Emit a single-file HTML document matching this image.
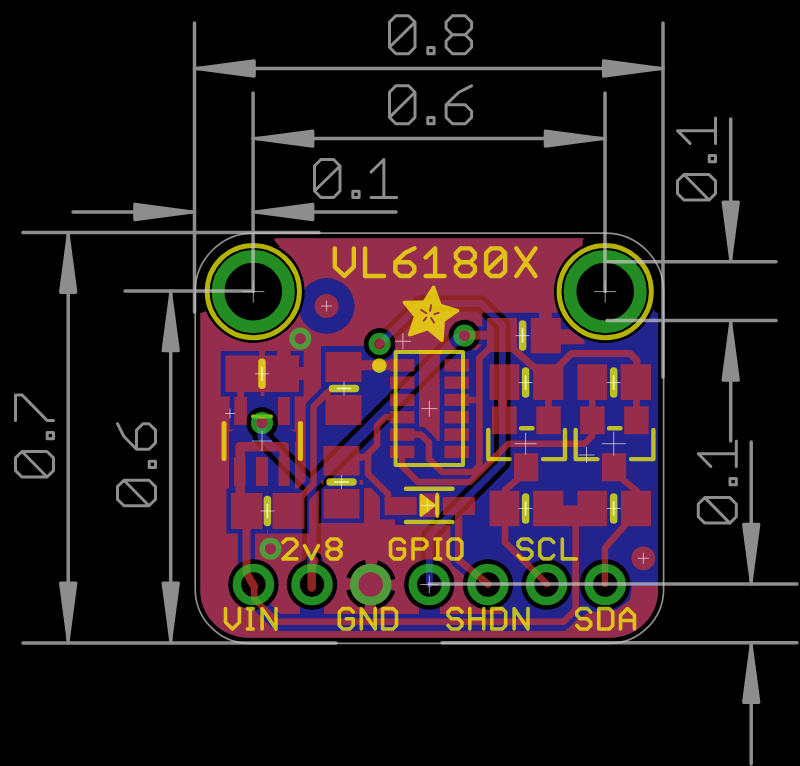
<!DOCTYPE html>
<html><head><meta charset="utf-8"><title>VL6180X board dimensions</title>
<style>html,body{margin:0;padding:0;background:#000;font-family:"Liberation Sans",sans-serif;}svg{display:block}</style></head><body>
<svg width="800" height="766" viewBox="0 0 800 766">
<rect width="800" height="766" fill="#000"/>
<g opacity="0.706">
<path d="M247.8 238.2 H610.6 A47.5 47.5 0 0 1 658.1 285.7 V590.2 A47.5 47.5 0 0 1 610.6 637.7 H247.8 A47.5 47.5 0 0 1 200.3 590.2 V285.7 A47.5 47.5 0 0 1 247.8 238.2 Z" fill="rgb(50,50,200)"/>
<g fill="#000"><path d="M202.0 291.6 a51.3 51.3 0 1 1 102.6 0 a51.3 51.3 0 1 1 -102.6 0 Z"/><path d="M553.9 291.6 a51.3 51.3 0 1 1 102.6 0 a51.3 51.3 0 1 1 -102.6 0 Z"/><path d="M190.0 230.0 H253.3 V291.6 H190.0 Z"/><path d="M605.2 230.0 H670.0 V291.6 H605.2 Z"/><path d="M253.0 236.0 L274.5 236.0 L274.5 240.5 L280.0 247.0 L253.0 247.0 Z"/><path d="M197.0 291.0 L197.0 311.0 L201.5 313.0 L206.0 311.0 L206.0 291.0 Z"/><path d="M652.0 290.0 L661.0 290.0 L661.0 311.0 L657.5 313.0 L654.0 311.0 Z"/><path d="M585.0 236.0 L605.0 236.0 L605.0 247.0 L582.5 247.0 L582.5 241.0 Z"/><path d="M228.1 584.5 a25.3 25.3 0 1 1 50.6 0 a25.3 25.3 0 1 1 -50.6 0 Z"/><path d="M286.7 584.5 a25.3 25.3 0 1 1 50.6 0 a25.3 25.3 0 1 1 -50.6 0 Z"/><path d="M404.0 584.5 a25.3 25.3 0 1 1 50.6 0 a25.3 25.3 0 1 1 -50.6 0 Z"/><path d="M462.6 584.5 a25.3 25.3 0 1 1 50.6 0 a25.3 25.3 0 1 1 -50.6 0 Z"/><path d="M521.3 584.5 a25.3 25.3 0 1 1 50.6 0 a25.3 25.3 0 1 1 -50.6 0 Z"/><path d="M579.9 584.5 a25.3 25.3 0 1 1 50.6 0 a25.3 25.3 0 1 1 -50.6 0 Z"/><path d="M363.8 343.8 a15.8 15.8 0 1 1 31.6 0 a15.8 15.8 0 1 1 -31.6 0 Z"/><path d="M448.6 335.6 a15.8 15.8 0 1 1 31.6 0 a15.8 15.8 0 1 1 -31.6 0 Z"/><path d="M246.2 423.0 a15.8 15.8 0 1 1 31.6 0 a15.8 15.8 0 1 1 -31.6 0 Z"/></g>
<path d="M262.0 423.3 L262.0 437.0 L311.7 486.7 L311.7 566.0" fill="none" stroke="#000" stroke-width="18.7" stroke-linecap="round" stroke-linejoin="round"/>
<path d="M311.7 484.8 L457.0 339.5 L464.6 335.3" fill="none" stroke="#000" stroke-width="19.6" stroke-linecap="round" stroke-linejoin="round"/>
<path d="M379.5 344.2 L420.2 303.5 L481.0 303.5 L502.4 324.9 L502.4 462.5 L429.3 535.7 L429.3 584.1" fill="none" stroke="#000" stroke-width="16.2" stroke-linecap="round" stroke-linejoin="round"/>
<path d="M262.0 423.3 L262.0 437.0 L311.7 486.7 L311.7 566.0" fill="none" stroke="rgb(50,50,200)" stroke-width="9.5" stroke-linecap="round" stroke-linejoin="round"/>
<path d="M311.7 484.8 L457.0 339.5 L464.6 335.3" fill="none" stroke="rgb(50,50,200)" stroke-width="10.4" stroke-linecap="round" stroke-linejoin="round"/>
<path d="M379.5 344.2 L420.2 303.5 L481.0 303.5 L502.4 324.9 L502.4 462.5 L429.3 535.7 L429.3 584.1" fill="none" stroke="rgb(50,50,200)" stroke-width="7.0" stroke-linecap="round" stroke-linejoin="round"/>
<circle cx="370.7" cy="584.5" r="23" fill="none" stroke="#000" stroke-width="4.6" stroke-dasharray="24.13 12" stroke-dashoffset="-6"/>
</g>
<defs><mask id="tp" maskUnits="userSpaceOnUse" x="0" y="0" width="800" height="766">
<path d="M247.8 238.2 H610.6 A47.5 47.5 0 0 1 658.1 285.7 V590.2 A47.5 47.5 0 0 1 610.6 637.7 H247.8 A47.5 47.5 0 0 1 200.3 590.2 V285.7 A47.5 47.5 0 0 1 247.8 238.2 Z" fill="#fff"/>
<path d="M483.0 312.8 L556.0 312.8 L604.6 300.0 L604.6 236.0 L661.0 236.0 L661.0 586.0 L632.0 586.0 L630.0 600.0 L616.0 610.0 L590.0 612.0 L575.0 620.0 L563.0 630.5 L502.5 630.5 L502.5 607.0 L488.0 607.0 L488.0 584.0 L476.0 585.0 L452.5 562.0 L452.5 525.0 L478.0 525.0 Z" fill="#000"/>
<path d="M395.0 350.0 L418.7 350.0 L418.7 426.0 L437.5 441.0 L442.2 441.0 L442.2 350.0 L483.0 350.0 L483.0 525.0 L395.0 525.0 Z" fill="#000"/>
<path d="M321.0 346.0 L395.0 346.0 L395.0 497.0 L380.0 497.0 L380.0 488.0 L363.0 488.0 L363.0 442.0 L321.0 442.0 Z" fill="#000"/>
<path d="M246.0 396.0 L278.0 396.0 L278.0 425.0 L296.0 432.0 L296.0 442.0 L229.0 442.0 L229.0 432.0 L246.0 425.0 Z" fill="#000"/>
<path d="M229.0 440.0 L295.0 440.0 L295.0 492.0 L229.0 492.0 Z" fill="#000"/>
<path d="M323.5 474.0 L359.5 474.0 L359.5 490.0 L323.5 490.0 Z" fill="#000"/>
<path d="M325.5 381.0 L361.5 381.0 L361.5 396.0 L325.5 396.0 Z" fill="#000"/>
<path d="M261.0 493.0 L274.0 493.0 L274.0 529.0 L261.0 529.0 Z" fill="#000"/>
<path d="M274.0 624.0 L566.0 624.0 L566.0 630.9 L279.0 630.9 Z" fill="#000"/>
<path d="M300.0 605.0 L324.0 605.0 L324.0 616.0 L300.0 616.0 Z" fill="#000"/>
<path d="M419.0 605.0 L440.0 605.0 L440.0 616.0 L419.0 616.0 Z" fill="#000"/>
<g fill="#000"><path d="M202.0 291.6 a51.3 51.3 0 1 1 102.6 0 a51.3 51.3 0 1 1 -102.6 0 Z"/><path d="M553.9 291.6 a51.3 51.3 0 1 1 102.6 0 a51.3 51.3 0 1 1 -102.6 0 Z"/><path d="M190.0 230.0 H253.3 V291.6 H190.0 Z"/><path d="M605.2 230.0 H670.0 V291.6 H605.2 Z"/><path d="M253.0 236.0 L274.5 236.0 L274.5 240.5 L280.0 247.0 L253.0 247.0 Z"/><path d="M197.0 291.0 L197.0 311.0 L201.5 313.0 L206.0 311.0 L206.0 291.0 Z"/><path d="M652.0 290.0 L661.0 290.0 L661.0 311.0 L657.5 313.0 L654.0 311.0 Z"/><path d="M585.0 236.0 L605.0 236.0 L605.0 247.0 L582.5 247.0 L582.5 241.0 Z"/><path d="M228.1 584.5 a25.3 25.3 0 1 1 50.6 0 a25.3 25.3 0 1 1 -50.6 0 Z"/><path d="M286.7 584.5 a25.3 25.3 0 1 1 50.6 0 a25.3 25.3 0 1 1 -50.6 0 Z"/><path d="M404.0 584.5 a25.3 25.3 0 1 1 50.6 0 a25.3 25.3 0 1 1 -50.6 0 Z"/><path d="M462.6 584.5 a25.3 25.3 0 1 1 50.6 0 a25.3 25.3 0 1 1 -50.6 0 Z"/><path d="M521.3 584.5 a25.3 25.3 0 1 1 50.6 0 a25.3 25.3 0 1 1 -50.6 0 Z"/><path d="M579.9 584.5 a25.3 25.3 0 1 1 50.6 0 a25.3 25.3 0 1 1 -50.6 0 Z"/><path d="M363.8 343.8 a15.8 15.8 0 1 1 31.6 0 a15.8 15.8 0 1 1 -31.6 0 Z"/><path d="M448.6 335.6 a15.8 15.8 0 1 1 31.6 0 a15.8 15.8 0 1 1 -31.6 0 Z"/><path d="M246.2 423.0 a15.8 15.8 0 1 1 31.6 0 a15.8 15.8 0 1 1 -31.6 0 Z"/></g>
<path d="M298.6 306.0 a28.0 28.0 0 1 1 56.0 0 a28.0 28.0 0 1 1 -56.0 0 Z" fill="#000"/>
<path d="M482.4 313.4 H521.6 V356.6 H482.4 Z" fill="#000"/>
<path d="M526.2 313.4 H565.4 V357.9 H526.2 Z" fill="#000"/>
<path d="M485.0 359.6 H524.0 V404.6 H485.0 Z" fill="#000"/>
<path d="M528.6 359.6 H568.0 V404.6 H528.6 Z" fill="#000"/>
<path d="M572.8 359.6 H611.7 V404.6 H572.8 Z" fill="#000"/>
<path d="M616.0 359.6 H655.6 V404.6 H616.0 Z" fill="#000"/>
<path d="M487.3 401.8 H521.4 V438.8 H487.3 Z" fill="#000"/>
<path d="M531.7 401.8 H565.4 V438.8 H531.7 Z" fill="#000"/>
<path d="M509.4 448.6 H542.8 V485.8 H509.4 Z" fill="#000"/>
<path d="M575.6 401.8 H609.3 V438.8 H575.6 Z" fill="#000"/>
<path d="M619.6 401.8 H653.2 V438.8 H619.6 Z" fill="#000"/>
<path d="M597.3 448.6 H630.7 V485.8 H597.3 Z" fill="#000"/>
<path d="M485.0 486.1 H524.0 V530.9 H485.0 Z" fill="#000"/>
<path d="M528.6 486.1 H568.0 V530.9 H528.6 Z" fill="#000"/>
<path d="M572.8 486.1 H611.7 V530.9 H572.8 Z" fill="#000"/>
<path d="M616.4 486.1 H655.6 V530.9 H616.4 Z" fill="#000"/>
<path d="M220.8 351.0 H260.6 V396.6 H220.8 Z" fill="#000"/>
<path d="M264.4 351.0 H303.6 V396.6 H264.4 Z" fill="#000"/>
<path d="M226.4 488.4 H267.1 V533.6 H226.4 Z" fill="#000"/>
<path d="M267.9 488.4 H309.1 V533.6 H267.9 Z" fill="#000"/>
<path d="M320.9 347.4 H366.1 V386.6 H320.9 Z" fill="#000"/>
<path d="M320.9 390.4 H366.1 V429.6 H320.9 Z" fill="#000"/>
<path d="M318.9 441.4 H364.1 V480.1 H318.9 Z" fill="#000"/>
<path d="M318.9 484.4 H364.1 V523.1 H318.9 Z" fill="#000"/>
<path d="M380.0 492.4 H421.3 V519.6 H380.0 Z" fill="#000"/>
<path d="M438.2 492.4 H479.5 V519.6 H438.2 Z" fill="#000"/>
<path d="M229.7 392.4 H251.5 V429.6 H229.7 Z" fill="#000"/>
<path d="M273.4 392.4 H294.6 V429.6 H273.4 Z" fill="#000"/>
<path d="M229.4 452.4 H250.1 V490.6 H229.4 Z" fill="#000"/>
<path d="M251.4 452.4 H272.6 V490.6 H251.4 Z" fill="#000"/>
<path d="M273.9 452.4 H294.3 V490.6 H273.9 Z" fill="#000"/>
<path d="M385.4 354.5 H419.0 V376.1 H385.4 Z" fill="#000"/>
<path d="M439.8 354.5 H473.6 V376.1 H439.8 Z" fill="#000"/>
<path d="M385.4 371.8 H419.0 V393.4 H385.4 Z" fill="#000"/>
<path d="M439.8 371.8 H473.6 V393.4 H439.8 Z" fill="#000"/>
<path d="M385.4 389.1 H419.0 V410.7 H385.4 Z" fill="#000"/>
<path d="M439.8 389.1 H473.6 V410.7 H439.8 Z" fill="#000"/>
<path d="M385.4 406.5 H419.0 V428.1 H385.4 Z" fill="#000"/>
<path d="M439.8 406.5 H473.6 V428.1 H439.8 Z" fill="#000"/>
<path d="M385.4 423.8 H419.0 V445.4 H385.4 Z" fill="#000"/>
<path d="M439.8 423.8 H473.6 V445.4 H439.8 Z" fill="#000"/>
<path d="M385.4 441.1 H419.0 V462.7 H385.4 Z" fill="#000"/>
<path d="M439.8 441.1 H473.6 V462.7 H439.8 Z" fill="#000"/>
<path d="M240.6 392.0 L240.6 421.0" fill="none" stroke="#000" stroke-width="16.2" stroke-linecap="round" stroke-linejoin="round"/>
<path d="M240.3 446.7 L240.3 495.0" fill="none" stroke="#000" stroke-width="18.7" stroke-linecap="round" stroke-linejoin="round"/>
<path d="M246.5 529.0 L246.5 573.0 L254.2 586.5" fill="none" stroke="#000" stroke-width="17.2" stroke-linecap="round" stroke-linejoin="round"/>
<path d="M254.2 586.5 L254.2 599.0 L277.0 621.8 L563.5 621.8 L575.6 609.7 L575.6 526.0" fill="none" stroke="#000" stroke-width="15.8" stroke-linecap="round" stroke-linejoin="round"/>
<path d="M240.3 470.0 L240.3 446.7 L284.2 446.7 L284.2 470.0" fill="none" stroke="#000" stroke-width="18.7" stroke-linecap="round" stroke-linejoin="round"/>
<path d="M328.0 392.0 L313.5 406.5 L313.5 484.0 L300.0 498.0" fill="none" stroke="#000" stroke-width="15.7" stroke-linecap="round" stroke-linejoin="round"/>
<path d="M360.0 365.3 L392.0 365.3" fill="none" stroke="#000" stroke-width="19.2" stroke-linecap="round" stroke-linejoin="round"/>
<path d="M392.0 417.3 L385.5 417.3 L377.0 425.8 L377.0 445.0 L368.0 454.0 L368.0 474.0 L388.0 494.0 L388.0 500.0" fill="none" stroke="#000" stroke-width="15.7" stroke-linecap="round" stroke-linejoin="round"/>
<path d="M368.0 456.0 L358.0 458.0" fill="none" stroke="#000" stroke-width="15.7" stroke-linecap="round" stroke-linejoin="round"/>
<path d="M412.0 434.6 L421.0 434.6 L429.0 442.6 L429.0 459.0 L442.0 472.0 L473.0 472.0 L479.4 465.6 L479.4 358.0 L488.0 350.0" fill="none" stroke="#000" stroke-width="15.7" stroke-linecap="round" stroke-linejoin="round"/>
<path d="M468.0 400.0 L479.4 400.0" fill="none" stroke="#000" stroke-width="15.7" stroke-linecap="round" stroke-linejoin="round"/>
<path d="M464.6 335.3 L489.0 335.3" fill="none" stroke="#000" stroke-width="18.2" stroke-linecap="round" stroke-linejoin="round"/>
<path d="M402.0 455.0 L402.0 466.0 L418.0 482.0 L470.0 482.0 L508.3 443.7 L584.5 443.7 L592.0 436.2 L592.0 432.0" fill="none" stroke="#000" stroke-width="15.7" stroke-linecap="round" stroke-linejoin="round"/>
<path d="M512.0 348.0 L535.0 368.0" fill="none" stroke="#000" stroke-width="16.2" stroke-linecap="round" stroke-linejoin="round"/>
<path d="M558.0 367.0 L571.5 353.5 L630.0 353.5 L637.0 360.5 L637.0 367.0" fill="none" stroke="#000" stroke-width="16.2" stroke-linecap="round" stroke-linejoin="round"/>
<path d="M502.5 398.0 L502.5 408.0" fill="none" stroke="#000" stroke-width="18.2" stroke-linecap="round" stroke-linejoin="round"/>
<path d="M548.4 398.0 L548.4 408.0" fill="none" stroke="#000" stroke-width="15.8" stroke-linecap="round" stroke-linejoin="round"/>
<path d="M592.3 398.0 L592.3 408.0" fill="none" stroke="#000" stroke-width="15.8" stroke-linecap="round" stroke-linejoin="round"/>
<path d="M636.4 398.0 L636.4 408.0" fill="none" stroke="#000" stroke-width="15.8" stroke-linecap="round" stroke-linejoin="round"/>
<path d="M518.0 479.0 L505.0 490.0 L505.0 542.2 L547.0 584.1" fill="none" stroke="#000" stroke-width="15.7" stroke-linecap="round" stroke-linejoin="round"/>
<path d="M622.0 479.0 L637.0 491.0" fill="none" stroke="#000" stroke-width="15.7" stroke-linecap="round" stroke-linejoin="round"/>
<path d="M626.0 524.0 L604.9 548.0 L604.9 584.1" fill="none" stroke="#000" stroke-width="15.7" stroke-linecap="round" stroke-linejoin="round"/>
<path d="M458.6 513.0 L458.6 560.0 L488.0 584.1" fill="none" stroke="#000" stroke-width="16.4" stroke-linecap="round" stroke-linejoin="round"/>
<path d="M314.5 561.0 L311.7 566.0 L311.7 587.5" fill="none" stroke="#000" stroke-width="17.7" stroke-linecap="round" stroke-linejoin="round"/>
<path d="M277.0 349.0 H290.6 V357.0 H277.0 Z" fill="#fff"/>
<path d="M298.0 367.0 H306.0 V380.0 H298.0 Z" fill="#fff"/>
<path d="M539.0 311.0 H551.8 V319.0 H539.0 Z" fill="#fff"/>
<path d="M560.0 329.3 H569.5 V344.3 H560.0 Z" fill="#fff"/>
<path d="M255.0 355.6 H270.0 V392.0 H255.0 Z" fill="#fff"/>
<path d="M259.0 350.0 H265.0 V356.0 H259.0 Z" fill="#fff"/>
<circle cx="370.7" cy="584.5" r="23" fill="none" stroke="#000" stroke-width="4.6" stroke-dasharray="24.13 12" stroke-dashoffset="-6"/>
</mask></defs>
<g opacity="0.706">
<rect x="190" y="230" width="480" height="420" fill="rgb(200,50,50)" mask="url(#tp)"/>
<path d="M487.0 318.0 H517.0 V352.0 H487.0 Z" fill="rgb(200,50,50)"/>
<path d="M530.8 318.0 H560.8 V353.3 H530.8 Z" fill="rgb(200,50,50)"/>
<path d="M489.6 364.2 H519.4 V400.0 H489.6 Z" fill="rgb(200,50,50)"/>
<path d="M533.2 364.2 H563.4 V400.0 H533.2 Z" fill="rgb(200,50,50)"/>
<path d="M577.4 364.2 H607.1 V400.0 H577.4 Z" fill="rgb(200,50,50)"/>
<path d="M620.6 364.2 H651.0 V400.0 H620.6 Z" fill="rgb(200,50,50)"/>
<path d="M491.9 406.4 H516.8 V434.2 H491.9 Z" fill="rgb(200,50,50)"/>
<path d="M536.3 406.4 H560.8 V434.2 H536.3 Z" fill="rgb(200,50,50)"/>
<path d="M514.0 453.2 H538.2 V481.2 H514.0 Z" fill="rgb(200,50,50)"/>
<path d="M580.2 406.4 H604.7 V434.2 H580.2 Z" fill="rgb(200,50,50)"/>
<path d="M624.2 406.4 H648.6 V434.2 H624.2 Z" fill="rgb(200,50,50)"/>
<path d="M601.9 453.2 H626.1 V481.2 H601.9 Z" fill="rgb(200,50,50)"/>
<path d="M489.6 490.7 H519.4 V526.3 H489.6 Z" fill="rgb(200,50,50)"/>
<path d="M533.2 490.7 H563.4 V526.3 H533.2 Z" fill="rgb(200,50,50)"/>
<path d="M577.4 490.7 H607.1 V526.3 H577.4 Z" fill="rgb(200,50,50)"/>
<path d="M621.0 490.7 H651.0 V526.3 H621.0 Z" fill="rgb(200,50,50)"/>
<path d="M225.4 355.6 H256.0 V392.0 H225.4 Z" fill="rgb(200,50,50)"/>
<path d="M269.0 355.6 H299.0 V392.0 H269.0 Z" fill="rgb(200,50,50)"/>
<path d="M231.0 493.0 H262.5 V529.0 H231.0 Z" fill="rgb(200,50,50)"/>
<path d="M272.5 493.0 H304.5 V529.0 H272.5 Z" fill="rgb(200,50,50)"/>
<path d="M325.5 352.0 H361.5 V382.0 H325.5 Z" fill="rgb(200,50,50)"/>
<path d="M325.5 395.0 H361.5 V425.0 H325.5 Z" fill="rgb(200,50,50)"/>
<path d="M323.5 446.0 H359.5 V475.5 H323.5 Z" fill="rgb(200,50,50)"/>
<path d="M323.5 489.0 H359.5 V518.5 H323.5 Z" fill="rgb(200,50,50)"/>
<path d="M384.6 497.0 H416.7 V515.0 H384.6 Z" fill="rgb(200,50,50)"/>
<path d="M442.8 497.0 H474.9 V515.0 H442.8 Z" fill="rgb(200,50,50)"/>
<path d="M419.5 493.5 H439.5 V517.0 H419.5 Z" fill="rgb(200,50,50)"/>
<path d="M563.0 505.4 H578.0 V526.3 H563.0 Z" fill="rgb(200,50,50)"/>
<path d="M234.3 397.0 H246.9 V425.0 H234.3 Z" fill="rgb(200,50,50)"/>
<path d="M278.0 397.0 H290.0 V425.0 H278.0 Z" fill="rgb(200,50,50)"/>
<path d="M234.0 457.0 H245.5 V486.0 H234.0 Z" fill="rgb(200,50,50)"/>
<path d="M256.0 457.0 H268.0 V486.0 H256.0 Z" fill="rgb(200,50,50)"/>
<path d="M278.5 457.0 H289.7 V486.0 H278.5 Z" fill="rgb(200,50,50)"/>
<path d="M390.0 359.1 H414.4 V371.5 H390.0 Z" fill="rgb(200,50,50)"/>
<path d="M444.4 359.1 H469.0 V371.5 H444.4 Z" fill="rgb(200,50,50)"/>
<path d="M390.0 376.4 H414.4 V388.8 H390.0 Z" fill="rgb(200,50,50)"/>
<path d="M444.4 376.4 H469.0 V388.8 H444.4 Z" fill="rgb(200,50,50)"/>
<path d="M390.0 393.7 H414.4 V406.1 H390.0 Z" fill="rgb(200,50,50)"/>
<path d="M444.4 393.7 H469.0 V406.1 H444.4 Z" fill="rgb(200,50,50)"/>
<path d="M390.0 411.1 H414.4 V423.5 H390.0 Z" fill="rgb(200,50,50)"/>
<path d="M444.4 411.1 H469.0 V423.5 H444.4 Z" fill="rgb(200,50,50)"/>
<path d="M390.0 428.4 H414.4 V440.8 H390.0 Z" fill="rgb(200,50,50)"/>
<path d="M444.4 428.4 H469.0 V440.8 H444.4 Z" fill="rgb(200,50,50)"/>
<path d="M390.0 445.7 H414.4 V458.1 H390.0 Z" fill="rgb(200,50,50)"/>
<path d="M444.4 445.7 H469.0 V458.1 H444.4 Z" fill="rgb(200,50,50)"/>
<path d="M240.6 392.0 L240.6 421.0" fill="none" stroke="rgb(200,50,50)" stroke-width="7.0" stroke-linecap="round" stroke-linejoin="round"/>
<path d="M240.3 446.7 L240.3 495.0" fill="none" stroke="rgb(200,50,50)" stroke-width="9.5" stroke-linecap="round" stroke-linejoin="round"/>
<path d="M246.5 529.0 L246.5 573.0 L254.2 586.5" fill="none" stroke="rgb(200,50,50)" stroke-width="8.0" stroke-linecap="round" stroke-linejoin="round"/>
<path d="M254.2 586.5 L254.2 599.0 L277.0 621.8 L563.5 621.8 L575.6 609.7 L575.6 526.0" fill="none" stroke="rgb(200,50,50)" stroke-width="6.6" stroke-linecap="round" stroke-linejoin="round"/>
<path d="M240.3 470.0 L240.3 446.7 L284.2 446.7 L284.2 470.0" fill="none" stroke="rgb(200,50,50)" stroke-width="9.5" stroke-linecap="round" stroke-linejoin="round"/>
<path d="M328.0 392.0 L313.5 406.5 L313.5 484.0 L300.0 498.0" fill="none" stroke="rgb(200,50,50)" stroke-width="6.5" stroke-linecap="round" stroke-linejoin="round"/>
<path d="M360.0 365.3 L392.0 365.3" fill="none" stroke="rgb(200,50,50)" stroke-width="10.0" stroke-linecap="round" stroke-linejoin="round"/>
<path d="M392.0 417.3 L385.5 417.3 L377.0 425.8 L377.0 445.0 L368.0 454.0 L368.0 474.0 L388.0 494.0 L388.0 500.0" fill="none" stroke="rgb(200,50,50)" stroke-width="6.5" stroke-linecap="round" stroke-linejoin="round"/>
<path d="M368.0 456.0 L358.0 458.0" fill="none" stroke="rgb(200,50,50)" stroke-width="6.5" stroke-linecap="round" stroke-linejoin="round"/>
<path d="M412.0 434.6 L421.0 434.6 L429.0 442.6 L429.0 459.0 L442.0 472.0 L473.0 472.0 L479.4 465.6 L479.4 358.0 L488.0 350.0" fill="none" stroke="rgb(200,50,50)" stroke-width="6.5" stroke-linecap="round" stroke-linejoin="round"/>
<path d="M468.0 400.0 L479.4 400.0" fill="none" stroke="rgb(200,50,50)" stroke-width="6.5" stroke-linecap="round" stroke-linejoin="round"/>
<path d="M464.6 335.3 L489.0 335.3" fill="none" stroke="rgb(200,50,50)" stroke-width="9.0" stroke-linecap="round" stroke-linejoin="round"/>
<path d="M402.0 455.0 L402.0 466.0 L418.0 482.0 L470.0 482.0 L508.3 443.7 L584.5 443.7 L592.0 436.2 L592.0 432.0" fill="none" stroke="rgb(200,50,50)" stroke-width="6.5" stroke-linecap="round" stroke-linejoin="round"/>
<path d="M512.0 348.0 L535.0 368.0" fill="none" stroke="rgb(200,50,50)" stroke-width="7.0" stroke-linecap="round" stroke-linejoin="round"/>
<path d="M558.0 367.0 L571.5 353.5 L630.0 353.5 L637.0 360.5 L637.0 367.0" fill="none" stroke="rgb(200,50,50)" stroke-width="7.0" stroke-linecap="round" stroke-linejoin="round"/>
<path d="M502.5 398.0 L502.5 408.0" fill="none" stroke="rgb(200,50,50)" stroke-width="9.0" stroke-linecap="round" stroke-linejoin="round"/>
<path d="M548.4 398.0 L548.4 408.0" fill="none" stroke="rgb(200,50,50)" stroke-width="6.6" stroke-linecap="round" stroke-linejoin="round"/>
<path d="M592.3 398.0 L592.3 408.0" fill="none" stroke="rgb(200,50,50)" stroke-width="6.6" stroke-linecap="round" stroke-linejoin="round"/>
<path d="M636.4 398.0 L636.4 408.0" fill="none" stroke="rgb(200,50,50)" stroke-width="6.6" stroke-linecap="round" stroke-linejoin="round"/>
<path d="M518.0 479.0 L505.0 490.0 L505.0 542.2 L547.0 584.1" fill="none" stroke="rgb(200,50,50)" stroke-width="6.5" stroke-linecap="round" stroke-linejoin="round"/>
<path d="M622.0 479.0 L637.0 491.0" fill="none" stroke="rgb(200,50,50)" stroke-width="6.5" stroke-linecap="round" stroke-linejoin="round"/>
<path d="M626.0 524.0 L604.9 548.0 L604.9 584.1" fill="none" stroke="rgb(200,50,50)" stroke-width="6.5" stroke-linecap="round" stroke-linejoin="round"/>
<path d="M458.6 513.0 L458.6 560.0 L488.0 584.1" fill="none" stroke="rgb(200,50,50)" stroke-width="7.2" stroke-linecap="round" stroke-linejoin="round"/>
<path d="M314.5 561.0 L311.7 566.0 L311.7 587.5" fill="none" stroke="rgb(200,50,50)" stroke-width="8.5" stroke-linecap="round" stroke-linejoin="round"/>
<path d="M314.6 306.0 a12.0 12.0 0 1 1 24.0 0 a12.0 12.0 0 1 1 -24.0 0 Z" fill="rgb(200,50,50)"/>
<path d="M373.6 343.8 a6.0 6.0 0 1 1 12.0 0 a6.0 6.0 0 1 1 -12.0 0 Z" fill="rgb(200,50,50)"/>
<path d="M458.4 335.6 a6.0 6.0 0 1 1 12.0 0 a6.0 6.0 0 1 1 -12.0 0 Z" fill="rgb(200,50,50)"/>
<path d="M256.0 423.0 a6.0 6.0 0 1 1 12.0 0 a6.0 6.0 0 1 1 -12.0 0 Z" fill="rgb(200,50,50)"/>
<path d="M569.0 329.3 L584.5 340.5 L584.5 344.3 L569.0 344.3 Z" fill="rgb(200,50,50)"/>
<path d="M631.5 558.3 a11.9 11.9 0 1 1 23.8 0 a11.9 11.9 0 1 1 -23.8 0 Z" fill="rgb(200,50,50)"/>
</g>
<g opacity="0.706" fill="none" stroke="rgb(255,255,0)" stroke-linecap="round" stroke-linejoin="round">
<circle cx="253.3" cy="291.6" r="46.15" stroke-width="4.9"/>
<circle cx="605.2" cy="291.6" r="46.15" stroke-width="4.9"/>
<path d="M262.0 362.3 V385.3" stroke-width="7.5"/>
<path d="M332.5 388.5 H355.5" stroke-width="7.5"/>
<path d="M330.0 482.0 H353.0" stroke-width="7.5"/>
<path d="M267.4 499.5 V522.5" stroke-width="7.5"/>
<path d="M522.6 324.1 V347.1" stroke-width="7.5"/>
<path d="M525.6 371.1 V394.1" stroke-width="7.5"/>
<path d="M613.7 371.1 V394.1" stroke-width="7.5"/>
<path d="M525.6 496.9 V519.9" stroke-width="7.5"/>
<path d="M613.7 496.9 V519.9" stroke-width="7.5"/>
<path d="M224 423.5 V458.5 M300.4 423.5 V458.5" stroke-width="5"/>
<path d="M253 416.6 H271" stroke-width="4"/>
<rect x="395.6" y="352" width="67.4" height="113" stroke-width="4"/>
<circle cx="379.3" cy="365.6" r="7.3" fill="rgb(255,255,0)" stroke="none"/>
<path d="M406 488.8 H452.4 M406 522 H452.4" stroke-width="4.6"/>
<path d="M421 495.2 L434.2 505.2 L421 515.2 Z" stroke-width="3" fill="rgb(255,255,0)"/><path d="M437.2 495.5 V514.8" stroke-width="4.2" stroke-linecap="butt"/><path d="M437.2 494 V516.5" stroke-width="3"/>
<path d="M488.3 430 V459.1 H509.5 M565 430 V459.1 H543 M575.7 430 V459.1 H597.5 M653.4 430 V459.1 H631 M521 428.3 H532.5 M609 428.3 H620.5" stroke-width="4.4"/>
<path d="M334.80 248.40 L334.80 266.89 L344.30 276.00 L353.80 266.89 L353.80 248.40 M365.07 248.40 L365.07 276.00 L384.07 276.00 M414.34 248.40 L404.84 253.09 L395.34 262.20 L395.34 271.31 L400.09 276.00 L409.59 276.00 L414.34 271.31 L414.34 266.89 L409.59 262.20 L395.34 262.20 M425.61 257.51 L435.11 248.40 L435.11 276.00 M425.61 276.00 L444.61 276.00 M460.63 248.40 L470.13 248.40 L474.88 253.09 L474.88 257.51 L470.13 262.20 L460.63 262.20 L455.88 257.51 L455.88 253.09 L460.63 248.40 M460.63 262.20 L470.13 262.20 L474.88 266.89 L474.88 271.31 L470.13 276.00 L460.63 276.00 L455.88 271.31 L455.88 266.89 L460.63 262.20 M490.90 248.40 L500.40 248.40 L505.15 253.09 L505.15 271.31 L500.40 276.00 L490.90 276.00 L486.15 271.31 L486.15 253.09 L490.90 248.40 M486.15 271.31 L505.15 253.09 M516.42 248.40 L535.42 276.00 M535.42 248.40 L516.42 276.00" stroke-width="4.4"/>
<path d="M283.00 542.38 L286.48 539.00 L293.43 539.00 L296.90 542.38 L296.90 545.57 L283.00 558.90 L296.90 558.90 M304.50 545.57 L311.45 558.90 L318.40 545.57 M330.58 539.00 L337.53 539.00 L341.00 542.38 L341.00 545.57 L337.53 548.95 L330.58 548.95 L327.10 545.57 L327.10 542.38 L330.58 539.00 M330.58 548.95 L337.53 548.95 L341.00 552.33 L341.00 555.52 L337.53 558.90 L330.58 558.90 L327.10 555.52 L327.10 552.33 L330.58 548.95" stroke-width="3.6"/>
<path d="M404.45 542.38 L400.98 539.00 L394.03 539.00 L390.55 542.38 L390.55 555.52 L394.03 558.90 L400.98 558.90 L404.45 555.52 L404.45 548.95 L397.50 548.95 M413.05 558.90 L413.05 539.00 L423.48 539.00 L426.95 542.38 L426.95 545.57 L423.48 548.95 L413.05 548.95 M437.79 539.00 L437.79 558.90 M434.80 539.00 L440.78 539.00 M434.80 558.90 L440.78 558.90 M451.53 539.00 L458.48 539.00 L461.95 542.38 L461.95 555.52 L458.48 558.90 L451.53 558.90 L448.05 555.52 L448.05 542.38 L451.53 539.00" stroke-width="3.6"/>
<path d="M531.95 542.38 L528.47 539.00 L521.52 539.00 L518.05 542.38 L518.05 545.57 L521.52 548.95 L528.47 548.95 L531.95 552.33 L531.95 555.52 L528.47 558.90 L521.52 558.90 L518.05 555.52 M553.70 542.38 L550.22 539.00 L543.27 539.00 L539.80 542.38 L539.80 555.52 L543.27 558.90 L550.22 558.90 L553.70 555.52 M562.30 539.00 L562.30 558.90 L576.20 558.90" stroke-width="3.6"/>
<path d="M225.50 608.60 L225.50 622.27 L232.45 629.00 L239.40 622.27 L239.40 608.60 M250.29 608.60 L250.29 629.00 M247.30 608.60 L253.28 608.60 M247.30 629.00 L253.28 629.00 M262.10 629.00 L262.10 608.60 L276.00 629.00 L276.00 608.60" stroke-width="3.6"/>
<path d="M353.20 612.07 L349.73 608.60 L342.78 608.60 L339.30 612.07 L339.30 625.53 L342.78 629.00 L349.73 629.00 L353.20 625.53 L353.20 618.80 L346.25 618.80 M361.30 629.00 L361.30 608.60 L375.20 629.00 L375.20 608.60 M382.60 608.60 L393.03 608.60 L396.50 612.07 L396.50 625.53 L393.03 629.00 L382.60 629.00 L382.60 608.60" stroke-width="3.6"/>
<path d="M461.95 612.07 L458.48 608.60 L451.53 608.60 L448.05 612.07 L448.05 615.33 L451.53 618.80 L458.48 618.80 L461.95 622.27 L461.95 625.53 L458.48 629.00 L451.53 629.00 L448.05 625.53 M469.80 608.60 L469.80 629.00 M483.70 608.60 L483.70 629.00 M469.80 618.80 L483.70 618.80 M491.80 608.60 L502.23 608.60 L505.70 612.07 L505.70 625.53 L502.23 629.00 L491.80 629.00 L491.80 608.60 M514.10 629.00 L514.10 608.60 L528.00 629.00 L528.00 608.60" stroke-width="3.6"/>
<path d="M590.70 612.07 L587.22 608.60 L580.27 608.60 L576.80 612.07 L576.80 615.33 L580.27 618.80 L587.22 618.80 L590.70 622.27 L590.70 625.53 L587.22 629.00 L580.27 629.00 L576.80 625.53 M598.80 608.60 L609.22 608.60 L612.70 612.07 L612.70 625.53 L609.22 629.00 L598.80 629.00 L598.80 608.60 M620.55 629.00 L620.55 615.33 L627.50 608.60 L634.45 615.33 L634.45 629.00 M620.55 620.43 L634.45 620.43" stroke-width="3.6"/>
<path d="M433.6 287.2 L440.1 305.4 L457.7 310.7 L443.3 320.7 L442.0 340.5 L427.9 328.7 L409.5 334.8 L415.7 316.3 L404.3 302.4 L424.4 302.0 Z" fill="rgb(255,255,0)" stroke="rgb(255,255,0)" stroke-width="3.4"/>
</g>
<g stroke="rgb(151,45,77)" stroke-width="1.9" stroke-linecap="round" fill="none">
<path d="M431.1 305.3 L430.1 310.9"/>
<path d="M421.2 310.0 L426.4 313.3"/>
<path d="M434.4 314.2 L438.6 312.8"/>
<path d="M423.6 320.8 L426.4 317.5"/>
<path d="M431.1 318.0 L433.9 322.6"/>
</g>
<g opacity="0.706" fill="none" stroke="rgb(50,200,50)">
<circle cx="253.3" cy="291.6" r="35.2" stroke-width="12.8"/>
<circle cx="605.2" cy="291.6" r="35.2" stroke-width="12.8"/>
<circle cx="253.4" cy="584.5" r="16.5" stroke-width="8.6"/>
<circle cx="312.0" cy="584.5" r="16.5" stroke-width="8.6"/>
<circle cx="370.7" cy="584.5" r="16.5" stroke-width="8.6"/>
<circle cx="429.3" cy="584.5" r="16.5" stroke-width="8.6"/>
<circle cx="487.9" cy="584.5" r="16.5" stroke-width="8.6"/>
<circle cx="546.6" cy="584.5" r="16.5" stroke-width="8.6"/>
<circle cx="605.2" cy="584.5" r="16.5" stroke-width="8.6"/>
<circle cx="379.6" cy="343.8" r="8.3" stroke-width="5.6"/>
<circle cx="464.4" cy="335.6" r="8.3" stroke-width="5.6"/>
<circle cx="262.0" cy="423.0" r="8.3" stroke-width="5.6"/>
<circle cx="300.3" cy="338.6" r="8.3" stroke-width="5.4"/>
<circle cx="270.5" cy="548.8" r="8.3" stroke-width="5.4"/>
</g>
<g stroke="rgb(255,255,200)" stroke-opacity="0.45" stroke-width="2" stroke-linecap="round" fill="none">
<path d="M262.0 367.3 V380.3"/>
<path d="M337.5 388.5 H350.5"/>
<path d="M335.0 482.0 H348.0"/>
<path d="M267.4 504.5 V517.5"/>
<path d="M522.6 329.1 V342.1"/>
<path d="M525.6 376.1 V389.1"/>
<path d="M613.7 376.1 V389.1"/>
<path d="M525.6 501.9 V514.9"/>
<path d="M613.7 501.9 V514.9"/>
</g>
<g stroke="#fff" stroke-opacity="0.6" stroke-width="1" fill="none">
<path d="M255.0 373.8 H269.0 M262.0 366.8 V380.8"/>
<path d="M337.0 388.5 H351.0 M344.0 381.5 V395.5"/>
<path d="M334.5 482.0 H348.5 M341.5 475.0 V489.0"/>
<path d="M260.4 511.0 H274.4 M267.4 504.0 V518.0"/>
<path d="M515.6 335.6 H529.6 M522.6 328.6 V342.6"/>
<path d="M518.6 382.6 H532.6 M525.6 375.6 V389.6"/>
<path d="M606.7 382.6 H620.7 M613.7 375.6 V389.6"/>
<path d="M518.6 508.4 H532.6 M525.6 501.4 V515.4"/>
<path d="M606.7 508.4 H620.7 M613.7 501.4 V515.4"/>
<path d="M321.1 306.0 H332.1 M326.6 300.5 V311.5"/>
<path d="M637.9 558.3 H648.9 M643.4 552.8 V563.8"/>
<path d="M394.9 341.3 H410.9 M402.9 333.3 V349.3"/>
<path d="M421.4 408.6 H437.4 M429.4 400.6 V416.6"/>
<path d="M252.0 441.0 H272.0 M262.0 431.0 V451.0"/>
<path d="M514.6 443.7 H536.6 M525.6 432.7 V454.7"/>
<path d="M601.7 443.7 H625.7 M613.7 431.7 V455.7"/>
<path d="M420.5 505.4 H434.5 M427.5 498.4 V512.4"/>
<path d="M242.3 291.6 H264.3 M253.3 280.6 V302.6"/>
<path d="M594.2 291.6 H616.2 M605.2 280.6 V302.6"/>
<path d="M420.3 584.5 H438.3 M429.3 575.5 V593.5"/>
<path d="M578.5 455.0 H594.5 M586.5 447.0 V463.0"/>
<path d="M225.0 413.5 H235.0 M230.0 408.5 V418.5"/>
</g>
<g opacity="0.706" fill="none" stroke="rgb(200,200,200)" stroke-width="1.7">
<path d="M253.7 233.1 H605.1 A58.5 58.5 0 0 1 663.6 291.6 V588.9 A54.5 54.5 0 0 1 609.1 643.4 H249.7 A54.5 54.5 0 0 1 195.2 588.9 V291.6 A58.5 58.5 0 0 1 253.7 233.1 Z"/>
</g>
<g opacity="0.706" fill="none" stroke="rgb(200,200,200)" stroke-width="3.5" stroke-linecap="round">
<path d="M194.5 23.0 L194.5 312.0"/>
<path d="M663.0 23.0 L663.0 377.0"/>
<path d="M253.1 93.0 L253.1 291.6"/>
<path d="M605.0 93.0 L605.0 291.6"/>
<path d="M194.5 68.5 L663.2 68.5"/>
<path d="M197.7 68.5 L254.1 76.0 L254.1 61.0 Z" stroke="rgb(200,200,200)" stroke-width="3.4" stroke-linejoin="round" fill="rgb(200,200,200)"/>
<path d="M660.0 68.5 L603.6 61.0 L603.6 76.0 Z" stroke="rgb(200,200,200)" stroke-width="3.4" stroke-linejoin="round" fill="rgb(200,200,200)"/>
<path d="M253.1 138.6 L605.0 138.6"/>
<path d="M256.3 138.6 L312.7 146.1 L312.7 131.1 Z" stroke="rgb(200,200,200)" stroke-width="3.4" stroke-linejoin="round" fill="rgb(200,200,200)"/>
<path d="M601.8 138.6 L545.4 131.1 L545.4 146.1 Z" stroke="rgb(200,200,200)" stroke-width="3.4" stroke-linejoin="round" fill="rgb(200,200,200)"/>
<path d="M73.0 212.0 L194.5 212.0"/>
<path d="M191.3 212.0 L134.9 204.5 L134.9 219.5 Z" stroke="rgb(200,200,200)" stroke-width="3.4" stroke-linejoin="round" fill="rgb(200,200,200)"/>
<path d="M253.1 212.0 L396.0 212.0"/>
<path d="M256.3 212.0 L312.7 219.5 L312.7 204.5 Z" stroke="rgb(200,200,200)" stroke-width="3.4" stroke-linejoin="round" fill="rgb(200,200,200)"/>
<path d="M23.0 232.6 L319.0 232.6"/>
<path d="M23.0 642.9 L336.0 642.9"/>
<path d="M125.0 290.9 L253.1 290.9"/>
<path d="M68.2 232.6 L68.2 642.7"/>
<path d="M68.2 235.8 L60.7 292.2 L75.7 292.2 Z" stroke="rgb(200,200,200)" stroke-width="3.4" stroke-linejoin="round" fill="rgb(200,200,200)"/>
<path d="M68.2 639.5 L75.7 583.1 L60.7 583.1 Z" stroke="rgb(200,200,200)" stroke-width="3.4" stroke-linejoin="round" fill="rgb(200,200,200)"/>
<path d="M170.7 291.0 L170.7 642.7"/>
<path d="M170.7 294.2 L163.2 350.6 L178.2 350.6 Z" stroke="rgb(200,200,200)" stroke-width="3.4" stroke-linejoin="round" fill="rgb(200,200,200)"/>
<path d="M170.7 639.5 L178.2 583.1 L163.2 583.1 Z" stroke="rgb(200,200,200)" stroke-width="3.4" stroke-linejoin="round" fill="rgb(200,200,200)"/>
<path d="M605.0 261.7 L776.0 261.7"/>
<path d="M607.0 320.5 L776.0 320.5"/>
<path d="M429.3 584.1 L797.0 584.1"/>
<path d="M442.0 642.7 L797.0 642.7"/>
<path d="M730.7 119.0 L730.7 261.0"/>
<path d="M730.7 258.5 L738.2 202.1 L723.2 202.1 Z" stroke="rgb(200,200,200)" stroke-width="3.4" stroke-linejoin="round" fill="rgb(200,200,200)"/>
<path d="M730.7 321.0 L730.7 441.0"/>
<path d="M730.7 323.7 L723.2 380.1 L738.2 380.1 Z" stroke="rgb(200,200,200)" stroke-width="3.4" stroke-linejoin="round" fill="rgb(200,200,200)"/>
<path d="M751.2 442.0 L751.2 584.0"/>
<path d="M751.2 580.8 L758.7 524.4 L743.7 524.4 Z" stroke="rgb(200,200,200)" stroke-width="3.4" stroke-linejoin="round" fill="rgb(200,200,200)"/>
<path d="M751.2 642.7 L751.2 764.0"/>
<path d="M751.2 645.9 L743.7 702.3 L758.7 702.3 Z" stroke="rgb(200,200,200)" stroke-width="3.4" stroke-linejoin="round" fill="rgb(200,200,200)"/>
</g>
<g opacity="0.706" fill="none" stroke="rgb(200,200,200)" stroke-width="3" stroke-linecap="round" stroke-linejoin="round">
<path d="M395.88 15.70 L408.62 15.70 L415.00 22.16 L415.00 47.24 L408.62 53.70 L395.88 53.70 L389.50 47.24 L389.50 22.16 L395.88 15.70 M389.50 47.24 L415.00 22.16"/>
<path d="M427.80 47.40 h6.30 v6.30 h-6.30 Z"/>
<path d="M452.48 15.70 L465.23 15.70 L471.60 22.16 L471.60 28.24 L465.23 34.70 L452.48 34.70 L446.10 28.24 L446.10 22.16 L452.48 15.70 M452.48 34.70 L465.23 34.70 L471.60 41.16 L471.60 47.24 L465.23 53.70 L452.48 53.70 L446.10 47.24 L446.10 41.16 L452.48 34.70"/>
<path d="M395.88 85.80 L408.62 85.80 L415.00 92.26 L415.00 117.34 L408.62 123.80 L395.88 123.80 L389.50 117.34 L389.50 92.26 L395.88 85.80 M389.50 117.34 L415.00 92.26"/>
<path d="M427.80 117.50 h6.30 v6.30 h-6.30 Z"/>
<path d="M471.60 85.80 L458.85 92.26 L446.10 104.80 L446.10 117.34 L452.48 123.80 L465.23 123.80 L471.60 117.34 L471.60 111.26 L465.23 104.80 L446.10 104.80"/>
<path d="M320.88 159.50 L333.62 159.50 L340.00 165.96 L340.00 191.04 L333.62 197.50 L320.88 197.50 L314.50 191.04 L314.50 165.96 L320.88 159.50 M314.50 191.04 L340.00 165.96"/>
<path d="M352.80 191.20 h6.30 v6.30 h-6.30 Z"/>
<path d="M371.10 172.04 L383.85 159.50 L383.85 197.50 M371.10 197.50 L396.60 197.50"/>
<path d="M15.50 470.62 L15.50 457.88 L21.96 451.50 L47.04 451.50 L53.50 457.88 L53.50 470.62 L47.04 477.00 L21.96 477.00 L15.50 470.62 M47.04 477.00 L21.96 451.50"/>
<path d="M47.20 432.40 h6.30 v6.30 h-6.30 Z"/>
<path d="M15.50 420.40 L15.50 394.90 L21.96 394.90 L47.04 420.40 L53.50 420.40"/>
<path d="M117.50 499.43 L117.50 486.68 L123.96 480.30 L149.04 480.30 L155.50 486.68 L155.50 499.43 L149.04 505.80 L123.96 505.80 L117.50 499.43 M149.04 505.80 L123.96 480.30"/>
<path d="M149.20 461.20 h6.30 v6.30 h-6.30 Z"/>
<path d="M117.50 423.70 L123.96 436.45 L136.50 449.20 L149.04 449.20 L155.50 442.82 L155.50 430.07 L149.04 423.70 L142.96 423.70 L136.50 430.07 L136.50 449.20"/>
<path d="M677.50 193.62 L677.50 180.88 L683.96 174.50 L709.04 174.50 L715.50 180.88 L715.50 193.62 L709.04 200.00 L683.96 200.00 L677.50 193.62 M709.04 200.00 L683.96 174.50"/>
<path d="M709.20 155.40 h6.30 v6.30 h-6.30 Z"/>
<path d="M690.04 143.40 L677.50 130.65 L715.50 130.65 M715.50 143.40 L715.50 117.90"/>
<path d="M698.30 516.73 L698.30 503.98 L704.76 497.60 L729.84 497.60 L736.30 503.98 L736.30 516.73 L729.84 523.10 L704.76 523.10 L698.30 516.73 M729.84 523.10 L704.76 497.60"/>
<path d="M730.00 478.50 h6.30 v6.30 h-6.30 Z"/>
<path d="M710.84 466.50 L698.30 453.75 L736.30 453.75 M736.30 466.50 L736.30 441.00"/>
</g>
</svg></body></html>
